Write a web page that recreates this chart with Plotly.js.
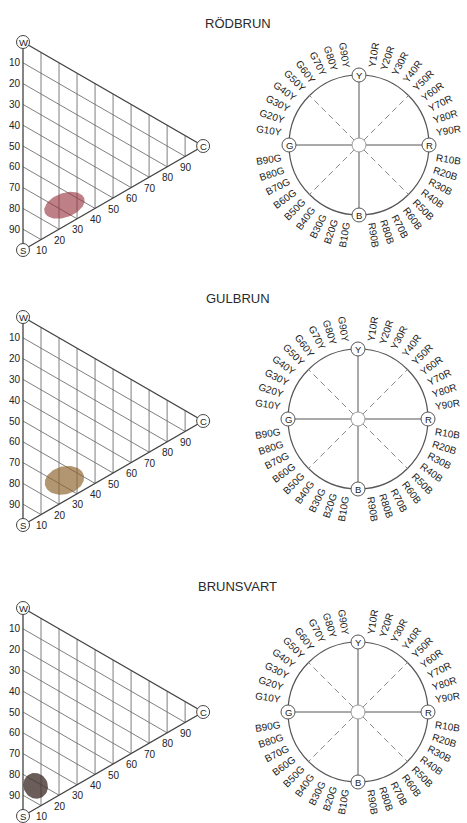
<!DOCTYPE html>
<html><head><meta charset="utf-8">
<script src="https://cdn.plot.ly/plotly-3.0.1.min.js"></script>
<style>html,body{margin:0;padding:0;background:#fff}#chart{width:467px;height:823px}</style>
</head><body><div id="chart"></div>
<script>
// ---- data ----
const titles = ['RÖDBRUN', 'GULBRUN', 'BRUNSVART'];
const scaleTicks = [10, 20, 30, 40, 50, 60, 70, 80, 90];
const cornerNames = ['W', 'S', 'C'];
const primaryNames = ['Y', 'R', 'B', 'G'];
const hueYR = ['Y10R', 'Y20R', 'Y30R', 'Y40R', 'Y50R', 'Y60R', 'Y70R', 'Y80R', 'Y90R'];
const hueRB = ['R10B', 'R20B', 'R30B', 'R40B', 'R50B', 'R60B', 'R70B', 'R80B', 'R90B'];
const hueBG = ['B10G', 'B20G', 'B30G', 'B40G', 'B50G', 'B60G', 'B70G', 'B80G', 'B90G'];
const hueGY = ['G10Y', 'G20Y', 'G30Y', 'G40Y', 'G50Y', 'G60Y', 'G70Y', 'G80Y', 'G90Y'];
const areaBlackness = [67, 67, 82];
const areaChromaticness = [23, 23, 7];
const areaSpreadMajor = [10.1, 9.6, 5.8];
const areaSpreadMinor = [5.8, 6.7, 6.3];
const areaTilt = [20, 15, 30];
const areaColors = ['rgba(150,50,60,0.62)', 'rgba(140,100,45,0.68)', 'rgba(70,52,48,0.8)'];

// ---- layout geometry ----
const W = 467, H = 823;
const k = 2.08;   // px per triangle unit
const kc = 70;    // px per hue-circle radius
const splitX = 232;
const panels = [
  {sx: 23, sy: 250, cx: 359, cy: 145, ty: 23, top: 0, bot: 272},
  {sx: 23, sy: 525, cx: 358, cy: 419, ty: 298, top: 272, bot: 548},
  {sx: 23, sy: 816, cx: 358, cy: 712, ty: 586, top: 548, bot: 823}
];
const FONT = 'Liberation Sans, Arial, sans-serif';
const s3 = Math.sqrt(3) / 2;
const hueGroups = [hueYR, hueRB, hueBG, hueGY];

function tri(s, c) { return [s3 * c, 100 - s - 0.5 * c]; }

const traces = [], shapes = [], annotations = [];
const layout = {
  width: W, height: H, margin: {l: 0, r: 0, t: 0, b: 0},
  paper_bgcolor: '#fff', plot_bgcolor: 'rgba(0,0,0,0)', showlegend: false,
  shapes: shapes, annotations: annotations
};
const hiddenAxis = {visible: false, fixedrange: true, showgrid: false, zeroline: false};

panels.forEach((p, i) => {
  const tx = 'x' + (2 * i + 1), ty = 'y' + (2 * i + 1);
  const cxr = 'x' + (2 * i + 2), cyr = 'y' + (2 * i + 2);
  const yDom = [1 - p.bot / H, 1 - p.top / H];
  layout['xaxis' + (2 * i + 1)] = Object.assign({}, hiddenAxis, {
    domain: [0, splitX / W], range: [(0 - p.sx) / k, (splitX - p.sx) / k], anchor: ty});
  layout['yaxis' + (2 * i + 1)] = Object.assign({}, hiddenAxis, {
    domain: yDom, range: [(p.sy - p.bot) / k, (p.sy - p.top) / k], anchor: tx});
  layout['xaxis' + (2 * i + 2)] = Object.assign({}, hiddenAxis, {
    domain: [splitX / W, 1], range: [(splitX - p.cx) / kc, (W - p.cx) / kc], anchor: cyr});
  layout['yaxis' + (2 * i + 2)] = Object.assign({}, hiddenAxis, {
    domain: yDom, range: [(p.cy - p.bot) / kc, (p.cy - p.top) / kc], anchor: cxr});

  // grid lines
  const gx = [], gy = [];
  scaleTicks.forEach(c => {
    const a = tri(0, c), b = tri(100 - c, c);
    gx.push(a[0], b[0], null); gy.push(a[1], b[1], null);
  });
  scaleTicks.forEach(s => {
    const a = tri(s, 0), b = tri(s, 100 - s);
    gx.push(a[0], b[0], null); gy.push(a[1], b[1], null);
  });
  traces.push({type: 'scatter', mode: 'lines', x: gx, y: gy, xaxis: tx, yaxis: ty,
    line: {color: '#707070', width: 0.9}, hoverinfo: 'skip'});

  // colour area
  const ctr = tri(areaBlackness[i], areaChromaticness[i]);
  const ang = areaTilt[i] * Math.PI / 180;
  const ex = [], ey = [];
  for (let j = 0; j <= 72; j++) {
    const t = j / 72 * 2 * Math.PI;
    const u = areaSpreadMajor[i] * Math.cos(t), v = areaSpreadMinor[i] * Math.sin(t);
    ex.push(ctr[0] + u * Math.cos(ang) - v * Math.sin(ang));
    ey.push(ctr[1] + u * Math.sin(ang) + v * Math.cos(ang));
  }
  traces.push({type: 'scatter', mode: 'lines', x: ex, y: ey, xaxis: tx, yaxis: ty,
    fill: 'toself', fillcolor: areaColors[i], line: {width: 0, color: areaColors[i]}, hoverinfo: 'skip'});

  // outline
  const Wp = tri(0, 0), Sp = tri(100, 0), Cp = tri(0, 100);
  traces.push({type: 'scatter', mode: 'lines', x: [Wp[0], Cp[0], Sp[0], Wp[0]], y: [Wp[1], Cp[1], Sp[1], Wp[1]],
    xaxis: tx, yaxis: ty, line: {color: '#444', width: 1.3}, hoverinfo: 'skip'});

  // corner markers
  [Wp, Sp, Cp].forEach((pt, j) => {
    shapes.push({type: 'circle', xref: tx, yref: ty, xsizemode: 'pixel', ysizemode: 'pixel',
      xanchor: pt[0], yanchor: pt[1], x0: -6.5, x1: 6.5, y0: -6.5, y1: 6.5,
      fillcolor: '#fff', line: {color: '#444', width: 1}});
    annotations.push({xref: tx, yref: ty, x: pt[0], y: pt[1], text: cornerNames[j], showarrow: false,
      xanchor: 'center', yanchor: 'middle', font: {family: FONT, size: 9.5, color: '#222'}});
  });

  // left scale (blackness)
  scaleTicks.forEach(s => {
    const pt = tri(s, 0);
    annotations.push({xref: tx, yref: ty, x: pt[0], y: pt[1], text: String(s), showarrow: false,
      xanchor: 'right', yanchor: 'middle', font: {family: FONT, size: 10, color: '#222'}});
  });
  // bottom scale (chromaticness)
  scaleTicks.forEach(c => {
    const pt = tri(100 - c, c);
    annotations.push({xref: tx, yref: ty, x: pt[0] + 1 / k, y: pt[1] - 11 / k, text: String(c), showarrow: false,
      xanchor: 'center', yanchor: 'middle', font: {family: FONT, size: 10, color: '#222'}});
  });

  // title
  annotations.push({xref: 'paper', yref: 'paper', x: 238 / W, y: 1 - p.ty / H, text: titles[i], showarrow: false,
    xanchor: 'center', yanchor: 'middle', font: {family: FONT, size: 13, color: '#2a2a2a'}});

  // hue circle
  shapes.push({type: 'circle', xref: cxr, yref: cyr, x0: -1, x1: 1, y0: -1, y1: 1,
    line: {color: '#555', width: 1.2}});
  const rIn = 7 / kc, rOut = 1 - 7 / kc;
  [0, 90, 180, 270].forEach(d => {
    const a = d * Math.PI / 180;
    shapes.push({type: 'line', xref: cxr, yref: cyr,
      x0: rIn * Math.sin(a), y0: rIn * Math.cos(a), x1: rOut * Math.sin(a), y1: rOut * Math.cos(a),
      line: {color: '#555', width: 1}});
  });
  [45, 135, 225, 315].forEach(d => {
    const a = d * Math.PI / 180;
    shapes.push({type: 'line', xref: cxr, yref: cyr,
      x0: rIn * Math.sin(a), y0: rIn * Math.cos(a), x1: Math.sin(a), y1: Math.cos(a),
      line: {color: '#888', width: 1, dash: '6px,4px'}});
  });
  shapes.push({type: 'circle', xref: cxr, yref: cyr, xsizemode: 'pixel', ysizemode: 'pixel',
    xanchor: 0, yanchor: 0, x0: -7, x1: 7, y0: -7, y1: 7,
    fillcolor: '#fff', line: {color: '#999', width: 1}});
  primaryNames.forEach((nm, q) => {
    const a = q * Math.PI / 2;
    const px = Math.sin(a), py = Math.cos(a);
    shapes.push({type: 'circle', xref: cxr, yref: cyr, xsizemode: 'pixel', ysizemode: 'pixel',
      xanchor: px, yanchor: py, x0: -7, x1: 7, y0: -7, y1: 7,
      fillcolor: '#fff', line: {color: '#555', width: 1}});
    annotations.push({xref: cxr, yref: cyr, x: px, y: py, text: nm, showarrow: false,
      xanchor: 'center', yanchor: 'middle', font: {family: FONT, size: 9.5, color: '#222'}});
  });
  const rLab = 91 / kc;
  hueGroups.forEach((grp, q) => {
    grp.forEach((lab, m) => {
      const th = 90 * q + 9 * (m + 1);
      const a = th * Math.PI / 180;
      const rot = th < 180 ? th - 90 : th - 270;
      annotations.push({xref: cxr, yref: cyr, x: rLab * Math.sin(a), y: rLab * Math.cos(a), text: lab,
        showarrow: false, textangle: rot, xanchor: 'center', yanchor: 'middle',
        font: {family: FONT, size: 10, color: '#222'}});
    });
  });
});

Plotly.newPlot('chart', traces, layout, {staticPlot: true, displayModeBar: false});
</script>
</body></html>
